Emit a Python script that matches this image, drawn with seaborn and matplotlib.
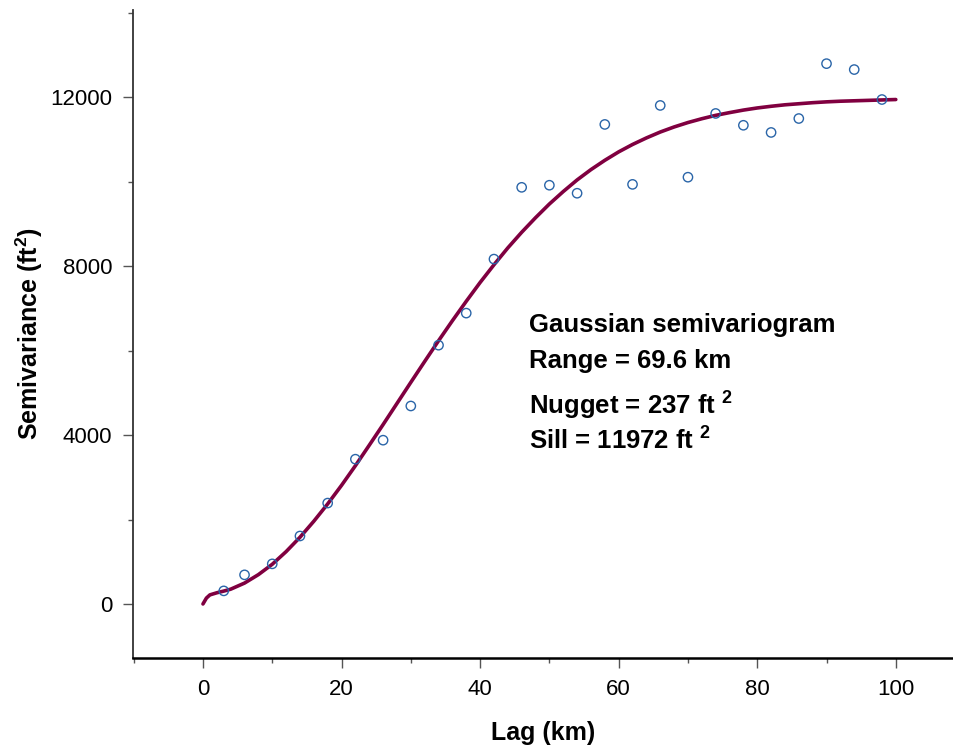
import matplotlib
matplotlib.use("Agg")
import matplotlib.pyplot as plt
import seaborn as sns
import pandas as pd
from matplotlib.ticker import MultipleLocator

# experimental semivariogram (lag km, semivariance ft^2)
lag = [3, 6, 10, 14, 18, 22, 26, 30, 34, 38, 42, 46, 50,
       54, 58, 62, 66, 70, 74, 78, 82, 86, 90, 94, 98]
semivar = [310, 690, 950, 1610, 2390, 3430, 3880, 4690, 6130, 6890, 8170, 9870, 9920,
           9730, 11360, 9940, 11810, 10110, 11620, 11340, 11170, 11500, 12800, 12660, 11950]

# fitted curve
fit_lag = [0, 0.5, 1, 2, 3, 4, 6, 8, 10, 12, 14, 16, 18, 20, 22, 24, 26, 28, 30,
           32, 34, 36, 38, 40, 42, 44, 46, 48, 50, 52, 54, 56, 58, 60, 62, 64, 66,
           68, 70, 72, 74, 76, 78, 80, 82, 84, 86, 88, 90, 92, 94, 96, 98, 100]
fit_val = [0, 140, 215, 265, 305, 350, 495, 695, 940, 1240, 1580, 1960, 2370, 2810,
           3275, 3760, 4250, 4750, 5250, 5745, 6235, 6710, 7170, 7615, 8035, 8435,
           8805, 9150, 9475, 9770, 10045, 10290, 10510, 10710, 10885, 11040, 11180,
           11300, 11405, 11495, 11575, 11640, 11700, 11750, 11790, 11825, 11850,
           11875, 11895, 11910, 11920, 11930, 11940, 11950]

info_lines = ["Gaussian semivariogram",
              "Range = 69.6 km",
              r"Nugget = 237 ft $^{\mathbf{2}}$",
              r"Sill = 11972 ft $^{\mathbf{2}}$"]

pts = pd.DataFrame({"lag": lag, "semivar": semivar})
fit = pd.DataFrame({"lag": fit_lag, "val": fit_val})

sns.set_style("white")
plt.rcParams["font.family"] = ["Liberation Sans", "DejaVu Sans"]
plt.rcParams["mathtext.fontset"] = "custom"
plt.rcParams["mathtext.rm"] = "Liberation Sans"
plt.rcParams["mathtext.bf"] = "Liberation Sans:bold"
plt.rcParams["text.color"] = "black"
plt.rcParams["axes.labelcolor"] = "black"
plt.rcParams["xtick.labelcolor"] = "black"
plt.rcParams["ytick.labelcolor"] = "black"

fig = plt.figure(figsize=(9.54, 7.49), dpi=100)
ax = fig.add_axes([0.1394, 0.1215, 0.8606, 0.8651])

sns.lineplot(data=fit, x="lag", y="val", color="#800040", linewidth=2.6, ax=ax, zorder=2)
sns.scatterplot(data=pts, x="lag", y="semivar", marker="o", s=45,
                facecolor="none", edgecolor="#2a65a8", linewidth=1.0, ax=ax, zorder=3)

ax.xaxis.set_major_locator(MultipleLocator(20))
ax.xaxis.set_minor_locator(MultipleLocator(10))
ax.yaxis.set_major_locator(MultipleLocator(4000))
ax.yaxis.set_minor_locator(MultipleLocator(2000))
ax.set_xticks(range(0, 101, 20))
ax.set_xlim(-10.1, 108.4)
ax.set_ylim(-1280, 14070)

ax.tick_params(which="major", direction="out", length=7, width=1, color="#555555",
               labelsize=16, pad=8, bottom=True, left=True)
ax.tick_params(which="minor", direction="out", length=3.5, width=1, color="#555555",
               bottom=True, left=True)

for s in ["top", "right"]:
    ax.spines[s].set_visible(False)
ax.spines["left"].set_color("#333333")
ax.spines["left"].set_linewidth(1.3)
ax.spines["bottom"].set_color("black")
ax.spines["bottom"].set_linewidth(1.8)

ax.set_xlabel("Lag (km)", fontsize=18, fontweight="bold", labelpad=15)
ax.set_ylabel(r"Semivariance (ft$^{\mathbf{2}}$)", fontsize=18, fontweight="bold", labelpad=4)

ys = [0.5035, 0.447, 0.3776, 0.3236]
for t, yy in zip(info_lines, ys):
    ax.text(0.482, yy, t, transform=ax.transAxes, fontsize=18.5, fontweight="bold",
            ha="left", va="baseline")

fig.savefig("out.png", dpi=100)
